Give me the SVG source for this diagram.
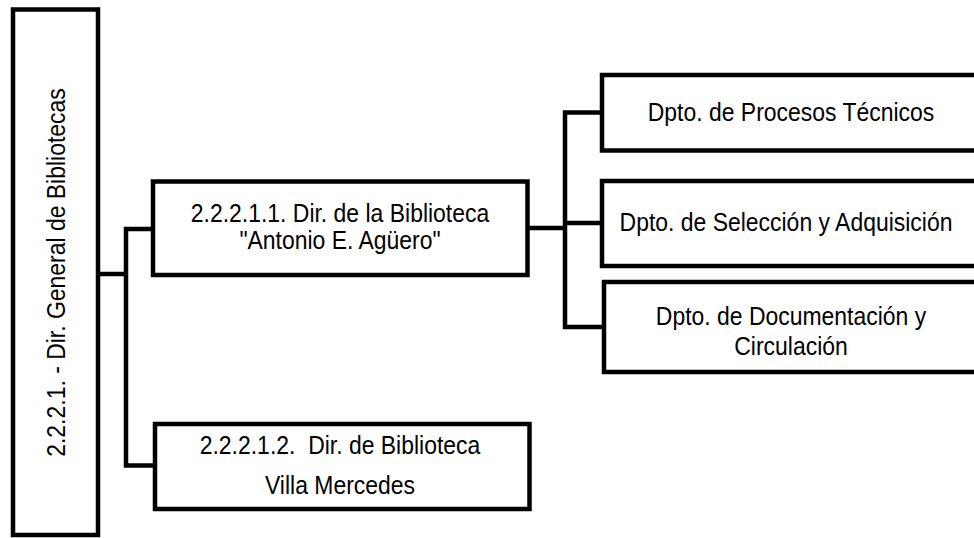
<svg xmlns="http://www.w3.org/2000/svg" width="974" height="538" viewBox="0 0 974 538">
<style>
.box{fill:#fff;stroke:#000;stroke-width:4.5}
.con{fill:none;stroke:#000;stroke-width:4.5;stroke-linejoin:miter;stroke-linecap:square}
text{font-family:"Liberation Sans",Arial,sans-serif;font-size:25.5px;fill:#000;text-anchor:middle}
</style>
<rect width="974" height="538" fill="#fff"/>
<g id="connectors">
<path class="con" d="M98,274 H126 M126,229 V465.5 M126,229 H153 M126,465.5 H155"/>
<path class="con" d="M527.5,228 H565 M565,112.5 V327 M565,112.5 H602 M565,223 H602 M565,327 H604"/>
</g>
<g id="n-general">
<rect class="box" x="13" y="9.5" width="85" height="525.5"/>
<text transform="translate(64.5,272.5) rotate(-90) scale(0.9,1)">2.2.2.1. - Dir. General de Bibliotecas</text>
</g>
<g id="n-aguero">
<rect class="box" x="153" y="181.5" width="374.5" height="93.5"/>
<text transform="translate(340,221.5) scale(0.9,1)">2.2.2.1.1. Dir. de la Biblioteca</text>
<text transform="translate(340,249) scale(0.9,1)">"Antonio E. Agüero"</text>
</g>
<g id="n-villa">
<rect class="box" x="155" y="424" width="374.5" height="85"/>
<text transform="translate(340,454) scale(0.9,1)" xml:space="preserve">2.2.2.1.2.  Dir. de Biblioteca</text>
<text transform="translate(340,494) scale(0.9,1)">Villa Mercedes</text>
</g>
<g id="n-procesos">
<rect class="box" x="602" y="75" width="380" height="75.5"/>
<text transform="translate(791,121) scale(0.9,1)">Dpto. de Procesos Técnicos</text>
</g>
<g id="n-seleccion">
<rect class="box" x="602" y="181" width="380" height="85"/>
<text transform="translate(786,231) scale(0.9,1)">Dpto. de Selección y Adquisición</text>
</g>
<g id="n-documentacion">
<rect class="box" x="604" y="282" width="380" height="90"/>
<text transform="translate(791,325) scale(0.9,1)">Dpto. de Documentación y</text>
<text transform="translate(791,355) scale(0.9,1)">Circulación</text>
</g>
</svg>
